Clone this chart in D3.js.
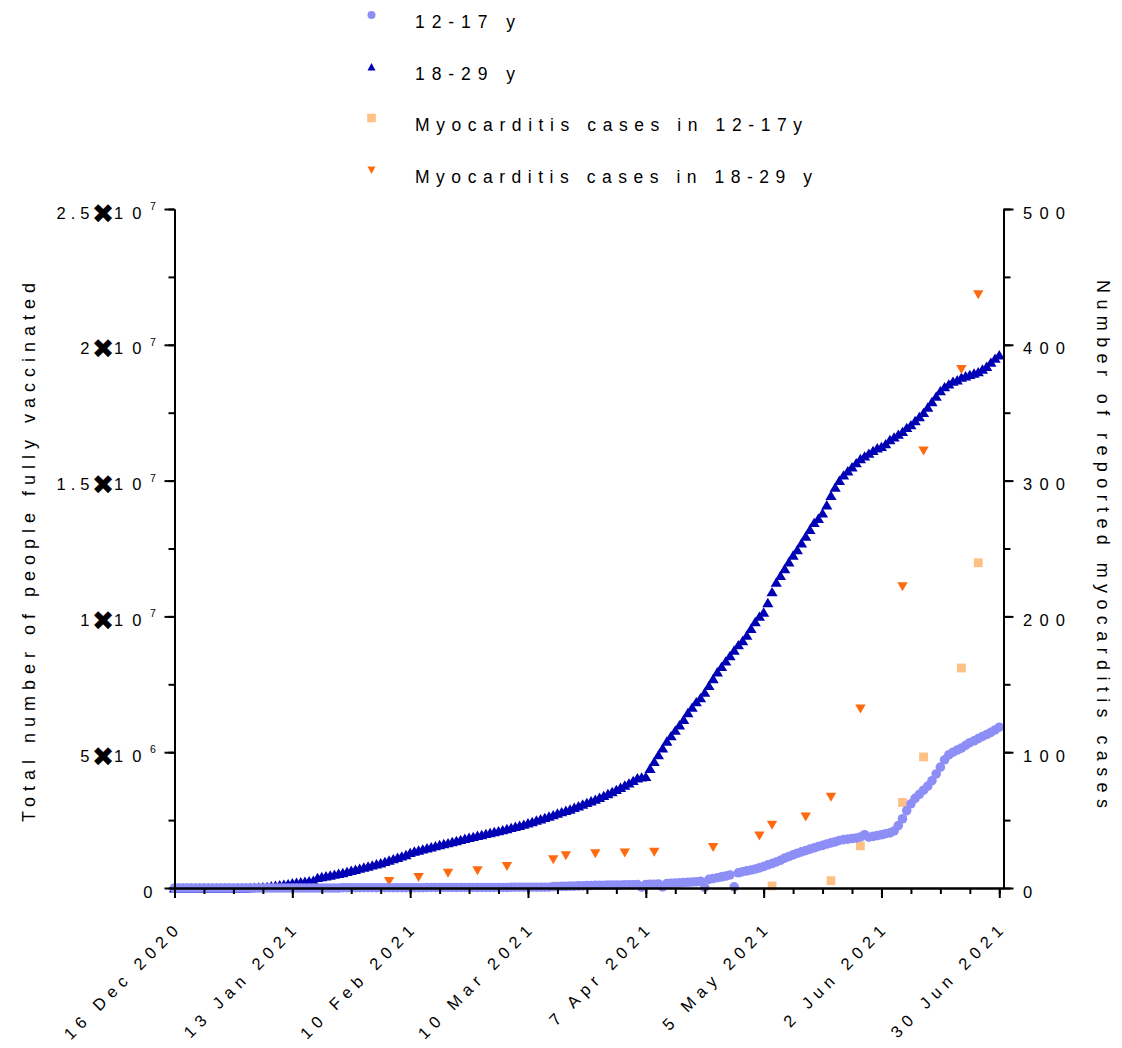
<!DOCTYPE html>
<html><head><meta charset="utf-8">
<script src="https://cdn.jsdelivr.net/npm/d3@7"></script>
<style>
body{margin:0;background:#fff}
svg{display:block}
text{font-family:"Liberation Sans",Arial,Helvetica,sans-serif;fill:#000}
</style>
</head><body>
<svg id="chart" width="1122" height="1048"></svg>
<script>
// ---------------- DATA ----------------
const startDate = "2020-12-16";           // first daily value
const endDate = "2021-07-01";             // x-axis end
// cumulative people fully vaccinated (millions), one value per day from startDate
const vacc1829 = [
 0,0,0,0,0,0,0,0,0,0,
 0,0,0,0,0,0,0,0,0.01,0.02,
 0.03,0.04,0.05,0.07,0.09,0.11,0.13,0.15,0.18,0.2,
 0.22,0.24,0.26,0.28,0.38,0.41,0.44,0.47,0.5,0.53,
 0.56,0.6,0.64,0.68,0.72,0.76,0.8,0.84,0.88,0.92,
 0.97,1.02,1.07,1.12,1.17,1.22,1.3,1.35,1.39,1.43,
 1.47,1.51,1.55,1.59,1.63,1.66,1.7,1.74,1.78,1.82,
 1.86,1.89,1.93,1.96,2.0,2.03,2.07,2.1,2.14,2.18,
 2.22,2.26,2.3,2.34,2.39,2.44,2.49,2.54,2.59,2.64,
 2.69,2.75,2.8,2.85,2.9,2.96,3.02,3.08,3.14,3.2,
 3.26,3.33,3.4,3.47,3.54,3.62,3.7,3.78,3.86,3.95,
 4.05,4.08,4.1,4.4,4.65,4.9,5.15,5.4,5.6,5.8,
 6.0,6.2,6.45,6.65,6.85,7.0,7.2,7.45,7.7,7.95,
 8.15,8.35,8.55,8.75,8.95,9.1,9.3,9.55,9.8,10.0,
 10.15,10.5,10.9,11.25,11.5,11.75,12.0,12.25,12.45,12.7,
 12.95,13.2,13.45,13.6,13.8,14.1,14.45,14.75,15.0,15.2,
 15.35,15.5,15.65,15.8,15.9,16.0,16.1,16.2,16.25,16.35,
 16.5,16.6,16.7,16.8,16.95,17.05,17.2,17.35,17.5,17.7,
 17.9,18.1,18.3,18.45,18.55,18.65,18.7,18.8,18.85,18.9,
 18.95,19.0,19.1,19.2,19.35,19.5,19.62
];
const vacc1217 = [
 0,0,0,0,0,0,0,0,0,0,
 0,0,0,0,0,0,0,0,0,0,
 0,0,0,0,0,0,0,0,0,0,
 0,0,0,0,0,0,0,0,0,0,
 0.01,0.01,0.01,0.01,0.01,0.01,0.01,0.01,0.01,0.01,
 0.01,0.01,0.01,0.01,0.01,0.01,0.01,0.01,0.01,0.01,
 0.02,0.02,0.02,0.02,0.02,0.02,0.02,0.02,0.02,0.02,
 0.02,0.02,0.02,0.02,0.02,0.02,0.02,0.02,0.02,0.02,
 0.03,0.03,0.03,0.03,0.03,0.03,0.03,0.03,0.03,0.03,
 0.05,0.05,0.06,0.06,0.07,0.07,0.08,0.08,0.09,0.09,
 0.1,0.1,0.1,0.11,0.11,0.11,0.11,0.12,0.12,0.12,
 0.13,0.03,0.13,0.14,0.14,0.15,0.04,0.16,0.17,0.18,
 0.19,0.2,0.21,0.22,0.23,0.25,0.02,0.32,0.35,0.38,
 0.41,0.44,0.48,0.04,0.56,0.6,0.63,0.66,0.7,0.74,
 0.79,0.85,0.9,0.96,1.02,1.1,1.16,1.22,1.28,1.33,
 1.38,1.43,1.48,1.53,1.57,1.62,1.66,1.7,1.75,1.78,
 1.8,1.82,1.84,1.88,1.96,1.87,1.9,1.93,1.96,2.0,
 2.03,2.1,2.3,2.55,2.85,3.1,3.3,3.45,3.6,3.75,
 3.95,4.2,4.45,4.72,4.9,5.0,5.08,5.15,5.25,5.35,
 5.42,5.5,5.58,5.65,5.73,5.82,5.92
];
// reported myocarditis cases (right axis)
const myoDates1829 = ["2021-02-05","2021-02-12","2021-02-19","2021-02-26","2021-03-05","2021-03-16","2021-03-19","2021-03-26","2021-04-02","2021-04-09","2021-04-23","2021-05-04","2021-05-07","2021-05-15","2021-05-21","2021-05-28","2021-06-07","2021-06-12","2021-06-21","2021-06-25"];
const myoCases1829 = [5,8,11,13,16,21,24,25.5,26,26.5,30,38.5,46.5,52.5,67,132,222,322,382,437];
const myoDates1217 = ["2021-05-07","2021-05-21","2021-05-28","2021-06-07","2021-06-12","2021-06-21","2021-06-25"];
const myoCases1217 = [1.5,5.4,31,63,96.5,162,239.5];
// ticks & labels
const leftMajor = [0,5e6,1e7,1.5e7,2e7,2.5e7];
const leftMantissa = ["0","5","1","1.5","2","2.5"];
const leftExponent = ["","6","7","7","7","7"];
const rightMajor = [0,100,200,300,400,500];
const xLabelDates = ["2020-12-16","2021-01-13","2021-02-10","2021-03-10","2021-04-07","2021-05-05","2021-06-02","2021-06-30"];
const legendLabels = ["12-17 y","18-29 y","Myocarditis cases in 12-17y","Myocarditis cases in 18-29 y"];
const leftTitle = "Total number of people fully vaccinated";
const rightTitle = "Number of reported myocarditis cases";

// ---------------- STYLE ----------------
const C_1217 = "#8e8ef7", C_1829 = "#0000b4", C_M1217 = "#ffc084", C_M1829 = "#ff6a10";
const X0 = 174.5, X1 = 1003.5, YB = 888, YT = 209;

const svg = d3.select("#chart");
const parse = d3.utcParse("%Y-%m-%d");
const t0 = parse(startDate);
const x = d3.scaleUtc().domain([t0, parse(endDate)]).range([X0, X1]);
const yL = d3.scaleLinear().domain([0, 25e6]).range([YB, YT]);
const yR = d3.scaleLinear().domain([0, 500]).range([YB, YT]);
const dayDate = i => d3.utcDay.offset(t0, i);

// ----- series -----
const triUp = "M0,-5L5.6,4.4L-5.6,4.4Z";
const triDown = "M-5.2,-4.2L5.2,-4.2L0,4.8Z";
const gData = svg.append("g");
gData.append("g").selectAll("path").data(vacc1829).join("path")
  .attr("transform", (v,i) => `translate(${x(dayDate(i))},${yL(v*1e6)})`)
  .attr("d", triUp).attr("fill", C_1829);
gData.append("g").selectAll("path").data(myoCases1829).join("path")
  .attr("transform", (v,i) => `translate(${x(parse(myoDates1829[i]))},${yR(v)})`)
  .attr("d", triDown).attr("fill", C_M1829);
gData.append("g").selectAll("rect").data(myoCases1217).join("rect")
  .attr("x", (v,i) => x(parse(myoDates1217[i])) - 4.4).attr("y", v => yR(v) - 4.4)
  .attr("width", 8.8).attr("height", 8.8).attr("fill", C_M1217);
gData.append("g").selectAll("circle").data(vacc1217).join("circle")
  .attr("cx", (v,i) => x(dayDate(i))).attr("cy", v => yL(v*1e6))
  .attr("r", 4.8).attr("fill", C_1217);

// ----- axes -----
function styleAxis(g){ g.selectAll("path,line").attr("stroke","#000").attr("stroke-width",2); g.selectAll("text").remove(); }
const leftMinor = d3.range(0, 25e6 + 1, 2.5e6);
svg.append("g").attr("transform",`translate(${X0},0)`)
  .call(d3.axisLeft(yL).tickValues(leftMinor).tickSize(6).tickSizeOuter(0)).call(styleAxis);
svg.append("g").attr("transform",`translate(${X0},0)`)
  .call(d3.axisLeft(yL).tickValues(leftMajor).tickSize(10).tickSizeOuter(0)).call(styleAxis);
svg.append("g").attr("transform",`translate(${X1},0)`)
  .call(d3.axisRight(yR).tickValues(d3.range(0,501,50)).tickSize(7).tickSizeOuter(0)).call(styleAxis);
svg.append("g").attr("transform",`translate(${X1},0)`)
  .call(d3.axisRight(yR).tickValues(rightMajor).tickSize(10).tickSizeOuter(0)).call(styleAxis);
const weekly = d3.range(0, 29).map(k => d3.utcDay.offset(t0, 7*k));
svg.append("g").attr("transform",`translate(0,${YB})`)
  .call(d3.axisBottom(x).tickValues(weekly).tickSize(6).tickSizeOuter(0)).call(styleAxis);
svg.append("g").attr("transform",`translate(0,${YB})`)
  .call(d3.axisBottom(x).tickValues(xLabelDates.map(parse)).tickSize(10).tickSizeOuter(0)).call(styleAxis);

// ----- left tick labels (one text element per label, parts as tspans) -----
const gl = svg.append("g");
leftMajor.forEach((v,i) => {
  const t = gl.append("text").attr("transform", `translate(${X0},${yL(v)})`).attr("font-size",16.5);
  if (leftExponent[i] === "") {
    t.attr("x", -22).attr("y", 10).attr("text-anchor","end").text(leftMantissa[i]);
    return;
  }
  const m = leftMantissa[i];
  if (m.length > 1) {
    t.append("tspan").attr("x", -85).attr("y", 9.5).attr("text-anchor","end")
      .attr("letter-spacing", 5).text(m.slice(0, -1));
    t.append("tspan").attr("letter-spacing", 0).text(m.slice(-1));
  } else {
    t.append("tspan").attr("x", -85).attr("y", 9.5).attr("text-anchor","end").text(m);
  }
  t.append("tspan").attr("x", -71.5).attr("y", 13.5).attr("text-anchor","middle")
    .attr("font-size",27).attr("font-family","DejaVu Sans").text("\u2716");
  t.append("tspan").attr("x", -60.5).attr("y", 9.5).attr("text-anchor","start")
    .attr("letter-spacing", 9).text("1");
  t.append("tspan").attr("letter-spacing", 0).text("0");
  t.append("tspan").attr("x", -24.5).attr("y", 1).attr("text-anchor","start")
    .attr("font-size",10.5).text(leftExponent[i]);
});
// ----- right tick labels -----
rightMajor.forEach(v => {
  const s = d3.format("d")(v);
  const t = svg.append("text").attr("x", X1 + 19.5).attr("y", yR(v) + 9.5).attr("font-size",16.5).text(s);
  if (s.length > 1) t.attr("textLength", 42).attr("lengthAdjust","spacing");
});
// ----- x tick labels -----
const xfmt = d3.utcFormat("%-d %b %Y");
xLabelDates.forEach(ds => {
  const d = parse(ds);
  svg.append("text")
    .attr("transform", `translate(${x(d)+9},${YB+40}) rotate(-45)`)
    .attr("text-anchor","end").attr("font-size",16.5).attr("letter-spacing",6)
    .text(xfmt(d));
});
// ----- axis titles -----
svg.append("text").attr("transform", `translate(35,552.5) rotate(-90)`)
  .attr("text-anchor","middle").attr("font-size",18)
  .attr("textLength",539).attr("lengthAdjust","spacing").text(leftTitle);
svg.append("text").attr("transform", `translate(1097,544) rotate(90)`)
  .attr("text-anchor","middle").attr("font-size",18)
  .attr("textLength",528).attr("lengthAdjust","spacing").text(rightTitle);

// ----- legend -----
const legY = [15, 67, 118, 170];
const legLen = [100, 100, 387, 397];
const legX = 371.5;
const lg = svg.append("g");
lg.append("circle").attr("cx", legX).attr("cy", legY[0]).attr("r", 4).attr("fill", C_1217);
lg.append("path").attr("transform",`translate(${legX},${legY[1]})`).attr("d","M0,-4L4,3.5L-4,3.5Z").attr("fill", C_1829);
lg.append("rect").attr("x", legX-4.3).attr("y", legY[2]-4.3).attr("width",8.6).attr("height",8.6).attr("fill", C_M1217);
lg.append("path").attr("transform",`translate(${legX},${legY[3]})`).attr("d","M-4,-3.5L4,-3.5L0,4Z").attr("fill", C_M1829);
legendLabels.forEach((s,i) => {
  lg.append("text").attr("x", 415).attr("y", legY[i] + 13).attr("font-size",17.5)
    .attr("textLength", legLen[i]).attr("lengthAdjust","spacing").text(s);
});
</script>
</body></html>
